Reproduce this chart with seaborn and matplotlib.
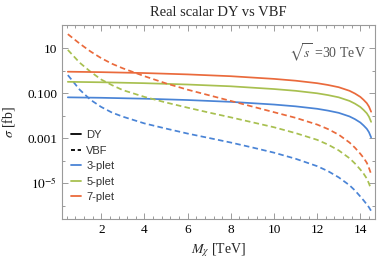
import numpy as np
import pandas as pd
import matplotlib
matplotlib.use("Agg")
import matplotlib.pyplot as plt
import seaborn as sns
from matplotlib.lines import Line2D
from matplotlib.ticker import FixedLocator, FixedFormatter, MultipleLocator, NullFormatter

# ---- data (sigma in fb) ----
mass_dy = [0.45, 2, 4, 6, 8, 10, 11, 12, 12.5, 13, 13.5, 13.75, 14, 14.15, 14.3, 14.4, 14.5]
dy_3plet = [0.0646, 0.0617, 0.0562, 0.0490, 0.0407, 0.0309, 0.0257, 0.0200, 0.0166, 0.0132,
            0.00912, 0.00692, 0.00490, 0.00363, 0.00257, 0.00182, 0.00107]
dy_5plet = [0.316, 0.302, 0.275, 0.240, 0.200, 0.151, 0.126, 0.0977, 0.0813, 0.0646,
            0.0447, 0.0339, 0.0240, 0.0178, 0.0126, 0.00891, 0.00525]
dy_7plet = [0.891, 0.851, 0.776, 0.676, 0.562, 0.427, 0.355, 0.275, 0.229, 0.182,
            0.126, 0.0955, 0.0676, 0.0501, 0.0355, 0.0251, 0.0148]

mass_vbf = [0.45, 1, 1.5, 2, 2.5, 3, 4, 5, 6, 7, 8, 9, 10, 11, 12, 12.5, 13, 13.5, 13.75,
            14, 14.15, 14.3, 14.4, 14.5]
vbf_3plet = [0.631, 0.141, 0.0501, 0.0240, 0.0135, 0.00891, 0.00447, 0.00263, 0.00158, 0.001,
             6.31e-4, 3.80e-4, 2.24e-4, 1.20e-4, 5.62e-5, 3.39e-5, 1.78e-5, 7.94e-6, 4.68e-6,
             2.51e-6, 1.70e-6, 1.12e-6, 8.32e-7, 5.75e-7]
vbf_5plet = [8.32, 2.24, 0.891, 0.398, 0.224, 0.135, 0.0676, 0.0380, 0.0224, 0.0135,
             0.00832, 0.00501, 0.00302, 0.00166, 8.32e-4, 5.13e-4, 2.82e-4, 1.26e-4, 7.41e-5,
             3.98e-5, 2.63e-5, 1.58e-5, 9.55e-6, 5.25e-6]
vbf_7plet = [41.7, 15.8, 7.08, 3.55, 2.0, 1.26, 0.562, 0.269, 0.141, 0.0794,
             0.0447, 0.0251, 0.0141, 0.00794, 0.00398, 0.00251, 0.00141, 6.31e-4, 3.72e-4,
             2.0e-4, 1.32e-4, 7.94e-5, 4.68e-5, 2.51e-5]

multiplets = ["3-plet", "5-plet", "7-plet"]
processes = ["DY", "VBF"]
colors = {"3-plet": "#4a84d6", "5-plet": "#a8c050", "7-plet": "#ea6a3c"}

ytick_vals = [10, 0.1, 0.001, 1e-5]
ytick_labels = ["10", "0.100", "0.001", r"$10^{-5}$"]
yminor_vals = [1, 0.01, 1e-4, 1e-6]

rows = []
for name, vals in zip(multiplets, [dy_3plet, dy_5plet, dy_7plet]):
    for m, v in zip(mass_dy, vals):
        rows.append((m, v, name, "DY"))
for name, vals in zip(multiplets, [vbf_3plet, vbf_5plet, vbf_7plet]):
    for m, v in zip(mass_vbf, vals):
        rows.append((m, v, name, "VBF"))
df = pd.DataFrame(rows, columns=["mass", "sigma", "multiplet", "process"])

sns.set_style("ticks")
plt.rcParams["font.family"] = ["Liberation Serif", "DejaVu Serif"]
plt.rcParams["mathtext.fontset"] = "stix"

fig = plt.figure(figsize=(3.82, 2.68), dpi=100)
ax = fig.add_axes([62 / 382, 1 - 219 / 268, (375 - 62) / 382, (219 - 24.7) / 268])

sns.lineplot(data=df, x="mass", y="sigma", hue="multiplet", style="process",
             palette=colors, dashes={"DY": "", "VBF": (3.2, 1.9)},
             estimator=None, sort=True, linewidth=1.25, legend=False, ax=ax)

ax.set_yscale("log")
ax.set_xlim(0.18, 14.68)
ax.set_ylim(10 ** -6.6, 10 ** 2.04)

ax.xaxis.set_major_locator(FixedLocator([2, 4, 6, 8, 10, 12, 14]))
ax.xaxis.set_minor_locator(MultipleLocator(0.4))
ax.yaxis.set_major_locator(FixedLocator(ytick_vals))
ax.yaxis.set_major_formatter(FixedFormatter(ytick_labels))
ax.yaxis.set_minor_locator(FixedLocator(yminor_vals))
ax.yaxis.set_minor_formatter(NullFormatter())

ax.tick_params(which="both", direction="in", top=True, right=True, color="#9a9a9a",
               labelsize=9.5, labelcolor="black", width=0.7)
ax.tick_params(which="major", length=4)
ax.tick_params(which="minor", length=2)
for s in ax.spines.values():
    s.set_color("#9a9a9a")
    s.set_linewidth(0.8)

ax.set_xlabel(r"$M_\chi$ [TeV]", fontsize=10)
ax.set_ylabel(r"$\sigma$ [fb]", fontsize=10, labelpad=7)
ax.set_title("Real scalar DY vs VBF", fontsize=10.5, pad=6)

ax.text(0.97, 0.855, r"$\sqrt{s}$ =30 TeV", transform=ax.transAxes, ha="right", va="center",
        fontsize=10, color="#555555")

handles = [Line2D([], [], color="black", lw=1.3, ls="-"),
           Line2D([], [], color="black", lw=1.3, ls=(0, (2.2, 1.5))),
           Line2D([], [], color=colors["3-plet"], lw=1.3),
           Line2D([], [], color=colors["5-plet"], lw=1.3),
           Line2D([], [], color=colors["7-plet"], lw=1.3)]
labels = ["DY", "VBF", "3-plet", "5-plet", "7-plet"]
leg = ax.legend(handles, labels, loc="upper left", bbox_to_anchor=(0.03, 0.458), frameon=False,
                prop={"family": "Liberation Sans", "size": 8}, handlelength=0.9, handletextpad=0.45,
                labelspacing=0.5, borderpad=0, borderaxespad=0)
for t in leg.get_texts():
    t.set_color("#333333")

fig.savefig("out.png", dpi=100)
